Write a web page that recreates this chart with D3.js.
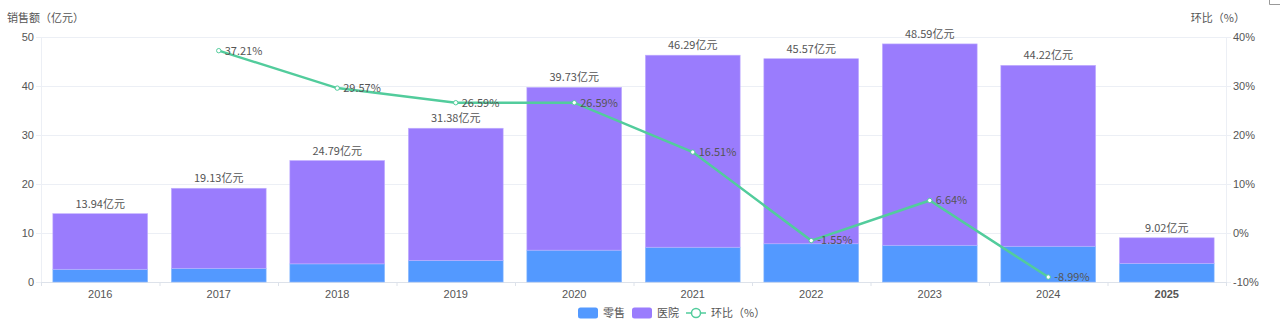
<!DOCTYPE html>
<html>
<head>
<meta charset="utf-8">
<script src="https://cdn.jsdelivr.net/npm/d3@7"></script>
<style>
  html, body { margin: 0; padding: 0; background: #fff; }
  svg { display: block; font-family: "Noto Sans CJK SC", "Noto Sans", sans-serif; }
</style>
</head>
<body>
<svg id="chart" width="1280" height="329"></svg>
<script>
// Sales by channel (亿元) and period-over-period growth (%)
const years = ["2016", "2017", "2018", "2019", "2020", "2021", "2022", "2023", "2024", "2025"];
const totals = [13.94, 19.13, 24.79, 31.38, 39.73, 46.29, 45.57, 48.59, 44.22, 9.02];
const retail = [2.6, 2.8, 3.7, 4.4, 6.5, 7.1, 7.8, 7.5, 7.3, 3.8];
const growthYears = ["2017", "2018", "2019", "2020", "2021", "2022", "2023", "2024"];
const growth = [37.21, 29.57, 26.59, 26.59, 16.51, -1.55, 6.64, -8.99];
const leftTicks = [0, 10, 20, 30, 40, 50];
const rightTicks = [-10, 0, 10, 20, 30, 40];

const colors = { retail: "#5399ff", hospital: "#9a7cfd", line: "#52cc9c", text: "#555", grid: "#eceff5", axis: "#dde2ea" };

const svg = d3.select("#chart");
const plotL = 41, plotR = 1226, plotT = 37, plotB = 282;

const x = d3.scaleBand().domain(years).range([plotL, plotR]).paddingInner(0.2).paddingOuter(0.1);
const xBand = d3.scaleBand().domain(years).range([plotL, plotR]);
const y = d3.scaleLinear().domain([0, 50]).range([plotB, plotT]);
const y2 = d3.scaleLinear().domain([-10, 40]).range([plotB, plotT]);

// gridlines
svg.append("g").selectAll("line").data(leftTicks).join("line")
  .attr("x1", plotL).attr("x2", plotR)
  .attr("y1", d => y(d) + 0.5).attr("y2", d => y(d) + 0.5)
  .attr("stroke", colors.grid).attr("stroke-width", 1);

// vertical frame lines
svg.append("line").attr("x1", plotL + 0.5).attr("x2", plotL + 0.5).attr("y1", plotT).attr("y2", plotB)
  .attr("stroke", colors.grid);
svg.append("line").attr("x1", plotR + 0.5).attr("x2", plotR + 0.5).attr("y1", plotT).attr("y2", plotB)
  .attr("stroke", colors.grid);

// left axis labels
const yAxis = d3.axisLeft(y).tickValues(leftTicks).tickSize(5).tickPadding(2);
const gy = svg.append("g").attr("transform", `translate(${plotL},0)`).call(yAxis);
gy.select(".domain").remove();
gy.selectAll(".tick line").attr("stroke", colors.grid);
gy.selectAll("text").attr("fill", colors.text).style("font-size", "11px");

// right axis labels
const y2Axis = d3.axisRight(y2).tickValues(rightTicks).tickSize(5).tickPadding(2).tickFormat(d => d + "%");
const gy2 = svg.append("g").attr("transform", `translate(${plotR},0)`).call(y2Axis);
gy2.select(".domain").remove();
gy2.selectAll(".tick line").attr("stroke", colors.grid);
gy2.selectAll("text").attr("fill", colors.text).style("font-size", "11px");

// bottom axis
const xAxis = d3.axisBottom(x).tickSize(0).tickPadding(8);
const gx = svg.append("g").attr("transform", `translate(0,${plotB})`).call(xAxis);
gx.select(".domain").attr("stroke", colors.axis);
gx.selectAll("text").attr("fill", colors.text).style("font-size", "11px")
  .style("font-weight", d => d === "2025" ? "bold" : "normal");
svg.append("g").selectAll("line").data(years.concat(["end"])).join("line")
  .attr("x1", (d, i) => plotL + i * xBand.bandwidth() + 0.5)
  .attr("x2", (d, i) => plotL + i * xBand.bandwidth() + 0.5)
  .attr("y1", plotB).attr("y2", plotB + 4)
  .attr("stroke", colors.axis);

// stacked bars
const rows = years.map((yr, i) => ({ year: yr, retail: retail[i], hospital: +(totals[i] - retail[i]).toFixed(2), total: totals[i] }));
const bars = svg.append("g");
bars.selectAll("rect.retail").data(rows).join("rect").attr("class", "retail")
  .attr("x", d => x(d.year)).attr("width", x.bandwidth())
  .attr("y", d => y(d.retail)).attr("height", d => y(0) - y(d.retail))
  .attr("fill", colors.retail).attr("stroke", "#8fbdff").attr("stroke-width", 0.6);
bars.selectAll("rect.hospital").data(rows).join("rect").attr("class", "hospital")
  .attr("x", d => x(d.year)).attr("width", x.bandwidth())
  .attr("y", d => y(d.retail + d.hospital)).attr("height", d => y(d.retail) - y(d.retail + d.hospital))
  .attr("fill", colors.hospital).attr("stroke", "#c2b0ff").attr("stroke-width", 0.6);

// total labels
svg.append("g").selectAll("text").data(rows).join("text")
  .attr("x", d => x(d.year) + x.bandwidth() / 2)
  .attr("y", d => y(d.total) - 6)
  .attr("text-anchor", "middle").attr("fill", colors.text).style("font-size", "11px")
  .text(d => d.total.toFixed(2) + "亿元");

// growth line
const pts = growthYears.map((yr, i) => ({ year: yr, v: growth[i] }));
const cx = d => x(d.year) + x.bandwidth() / 2;
svg.append("path").datum(pts)
  .attr("d", d3.line().x(cx).y(d => y2(d.v)))
  .attr("fill", "none").attr("stroke", colors.line).attr("stroke-width", 2.5);
svg.append("g").selectAll("circle").data(pts).join("circle")
  .attr("cx", cx).attr("cy", d => y2(d.v)).attr("r", 2.2)
  .attr("fill", "#fff").attr("stroke", colors.line).attr("stroke-width", 1);
svg.append("g").selectAll("text").data(pts).join("text")
  .attr("x", d => cx(d) + 6).attr("y", d => y2(d.v))
  .attr("dy", "0.35em").attr("fill", colors.text).style("font-size", "11px")
  .text(d => d.v.toFixed(2) + "%");

// axis titles
svg.append("text").attr("x", 7).attr("y", 22).attr("fill", colors.text).style("font-size", "11px").text("销售额（亿元）");
svg.append("text").attr("x", 1245).attr("y", 22).attr("text-anchor", "end").attr("fill", colors.text).style("font-size", "11px").text("环比（%）");

// legend
const lg = svg.append("g").attr("transform", "translate(0,313)");
lg.append("rect").attr("x", 578).attr("y", -5.5).attr("width", 20).attr("height", 11).attr("rx", 2.5).attr("fill", colors.retail);
lg.append("text").attr("x", 603).attr("y", 0).attr("dy", "0.35em").attr("fill", colors.text).style("font-size", "11px").text("零售");
lg.append("rect").attr("x", 632).attr("y", -5.5).attr("width", 20).attr("height", 11).attr("rx", 2.5).attr("fill", colors.hospital);
lg.append("text").attr("x", 657).attr("y", 0).attr("dy", "0.35em").attr("fill", colors.text).style("font-size", "11px").text("医院");
lg.append("line").attr("x1", 686).attr("x2", 706).attr("y1", 0).attr("y2", 0).attr("stroke", colors.line).attr("stroke-width", 1.5);
lg.append("circle").attr("cx", 696).attr("cy", 0).attr("r", 4.5).attr("fill", "#fff").attr("stroke", colors.line).attr("stroke-width", 1.5);
lg.append("text").attr("x", 711).attr("y", 0).attr("dy", "0.35em").attr("fill", colors.text).style("font-size", "11px").text("环比（%）");

// corner toolbox outline
svg.append("path").attr("d", "M1269.5,0 V4.5 H1280").attr("fill", "none").attr("stroke", "#999");
</script>
</body>
</html>
